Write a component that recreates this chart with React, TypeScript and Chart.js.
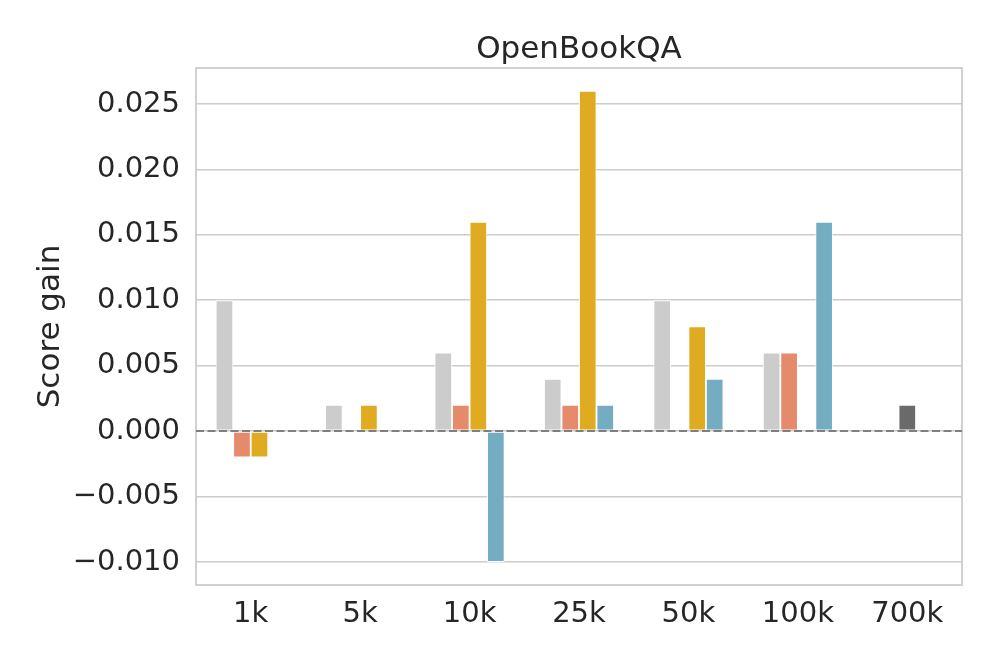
import React, { useEffect, useRef } from "react";
import { Chart, registerables } from "chart.js";

Chart.register(...registerables);

// 0 = bar slot kept but no visible bar; null = no slot for that hue at that size
const categories = ["1k", "5k", "10k", "25k", "50k", "100k", "700k"];
const seriesGray = [0.01, 0.002, 0.006, 0.004, 0.01, 0.006, null];
const seriesSalmon = [-0.002, 0, 0.002, 0.002, 0, 0.006, null];
const seriesGold = [-0.002, 0.002, 0.016, 0.026, 0.008, 0, null];
const seriesBlue = [0, 0, -0.01, 0.002, 0.004, 0.016, null];
const seriesDark = [null, null, null, null, null, null, 0.002];
const yTicks = [-0.01, -0.005, 0, 0.005, 0.01, 0.015, 0.02, 0.025];
const title = "OpenBookQA";
const yLabel = "Score gain";

const FONT = "'DejaVu Sans', sans-serif";
const TEXT = "#262626";
const GRID = "#cccccc";

export default function App() {
  const ref = useRef<HTMLCanvasElement | null>(null);
  useEffect(() => {
    const canvas = ref.current;
    if (!canvas) return;
    const mk = (label: string, data: (number | null)[], color: string, catPct: number) => ({
      label,
      data,
      backgroundColor: color,
      borderColor: "#ffffff",
      borderWidth: 0.9,
      borderSkipped: false as any,
      categoryPercentage: catPct,
      barPercentage: 1.0,
      skipNull: true,
    });
    const deco = {
      id: "deco",
      beforeDatasetsDraw(chart: any) {
        const { ctx, chartArea } = chart;
        ctx.save();
        ctx.strokeStyle = GRID;
        ctx.lineWidth = 1.8;
        ctx.strokeRect(chartArea.left, chartArea.top, chartArea.right - chartArea.left, chartArea.bottom - chartArea.top);
        ctx.restore();
      },
      afterDatasetsDraw(chart: any) {
        const { ctx, chartArea, scales } = chart;
        const y0 = Math.round(scales.y.getPixelForValue(0));
        ctx.save();
        ctx.strokeStyle = "#7f7f7f";
        ctx.lineWidth = 2;
        ctx.setLineDash([8, 3.5]);
        ctx.beginPath();
        ctx.moveTo(chartArea.left, y0);
        ctx.lineTo(chartArea.right, y0);
        ctx.stroke();
        ctx.restore();
      },
      afterDraw(chart: any) {
        const { ctx, chartArea } = chart;
        ctx.save();
        ctx.fillStyle = TEXT;
        ctx.font = `31px ${FONT}`;
        ctx.textAlign = "center";
        ctx.textBaseline = "alphabetic";
        ctx.fillText(title, (chartArea.left + chartArea.right) / 2, 58);
        ctx.translate(59, (chartArea.top + chartArea.bottom) / 2);
        ctx.rotate(-Math.PI / 2);
        ctx.fillText(yLabel, 0, 0);
        ctx.restore();
      },
    };
    const chart = new Chart(canvas, {
      type: "bar",
      data: {
        labels: categories,
        datasets: [
          mk("a", seriesGray, "#cccccc", 0.64),
          mk("b", seriesSalmon, "#e58a6b", 0.64),
          mk("c", seriesGold, "#dfac21", 0.64),
          mk("d", seriesBlue, "#74adc1", 0.64),
          mk("e", seriesDark, "#6a6a6a", 0.16),
        ] as any,
      },
      options: {
        animation: false,
        responsive: false,
        devicePixelRatio: 1,
        layout: { padding: { left: 0, top: 68, right: 35, bottom: 0 } },
        plugins: { legend: { display: false }, tooltip: { enabled: false }, title: { display: false } },
        scales: {
          x: {
            type: "category",
            offset: true,
            grid: { display: false, drawTicks: false },
            border: { display: false },
            ticks: { color: TEXT, font: { family: FONT, size: 29 }, padding: 12, maxRotation: 0 },
            afterFit(scale: any) {
              scale.height = 79;
            },
          },
          y: {
            type: "linear",
            min: -0.01176,
            max: 0.02775,
            grid: { color: GRID, lineWidth: 1.6, drawTicks: false },
            border: { display: false },
            afterBuildTicks(scale: any) {
              scale.ticks = yTicks.map((v) => ({ value: v }));
            },
            ticks: {
              color: TEXT,
              font: { family: FONT, size: 29 },
              padding: 16,
              callback: (v: any) => {
                const n = Number(v);
                const s = Math.abs(n).toFixed(3);
                return n < -1e-9 ? "\u2212" + s : s;
              },
            },
            afterFit(scale: any) {
              scale.width = 196;
            },
          },
        },
      } as any,
      plugins: [deco],
    });
    return () => chart.destroy();
  }, []);
  return (
    <div style={{ position: "absolute", left: 0, top: 0, width: 997, height: 664, background: "#fff" }}>
      <canvas ref={ref} width={997} height={664} style={{ width: 997, height: 664 }} />
    </div>
  );
}
